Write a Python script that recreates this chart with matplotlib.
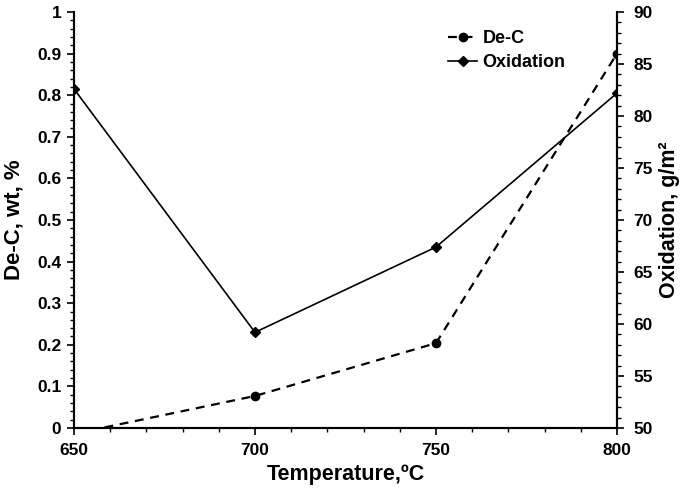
import matplotlib
matplotlib.use("Agg")
import matplotlib.pyplot as plt
from matplotlib.ticker import MultipleLocator

temps = [650, 700, 750, 800]
dec = [-0.014, 0.077, 0.204, 0.90]
oxid = [82.6, 59.2, 67.4, 82.2]

plt.rcParams['font.family'] = ['Liberation Sans', 'DejaVu Sans']
plt.rcParams['font.weight'] = 'bold'

fig = plt.figure(figsize=(6.85, 4.91), dpi=100)
L, R, T, B = 74, 617, 12, 428
ax = fig.add_axes([L/685, 1-B/491, (R-L)/685, (B-T)/491])
ax2 = ax.twinx()

l1, = ax.plot(temps, dec, 'k--', marker='o', markersize=6, lw=1.6, dashes=(4, 3), label='De-C')
l2, = ax2.plot(temps, oxid, 'k-', marker='D', markersize=5, lw=1.2, label='Oxidation')

ax.set_xlim(650, 800)
ax.set_ylim(0, 1)
ax2.set_ylim(50, 90)
ax.xaxis.set_major_locator(MultipleLocator(50))
ax.xaxis.set_minor_locator(MultipleLocator(10))
ax.yaxis.set_minor_locator(MultipleLocator(0.02))
ax2.yaxis.set_major_locator(MultipleLocator(5))
ax2.yaxis.set_minor_locator(MultipleLocator(1))
ax.set_yticks([0, 0.1, 0.2, 0.3, 0.4, 0.5, 0.6, 0.7, 0.8, 0.9, 1.0])
ax.set_yticklabels(['0', '0.1', '0.2', '0.3', '0.4', '0.5', '0.6', '0.7', '0.8', '0.9', '1'])

for a in (ax, ax2):
    a.spines['top'].set_visible(False)
    for s in a.spines.values():
        s.set_linewidth(1.5)
    a.tick_params(which='major', length=5, width=1.2, labelsize=12.5, direction='out', pad=4)
    a.tick_params(which='minor', length=3, width=1.0, direction='out')
ax.tick_params(axis='x', which='major', pad=6)
ax2.tick_params(axis='y', which='major', pad=7)

ax.set_xlabel('Temperature,\u00baC', fontsize=15.5, fontweight='bold', labelpad=4)
ax.set_ylabel('De-C, wt, %', fontsize=16, fontweight='bold', labelpad=9)
ax2.set_ylabel('Oxidation, g/m\u00b2', fontsize=15.5, fontweight='bold', labelpad=4)

fig.legend(handles=[l1, l2], loc='upper left', bbox_to_anchor=(432/685, 1-14/491),
           frameon=False, fontsize=13, handlelength=1.6, handletextpad=0.3, labelspacing=0.4)

fig.savefig('out.png', dpi=100)
